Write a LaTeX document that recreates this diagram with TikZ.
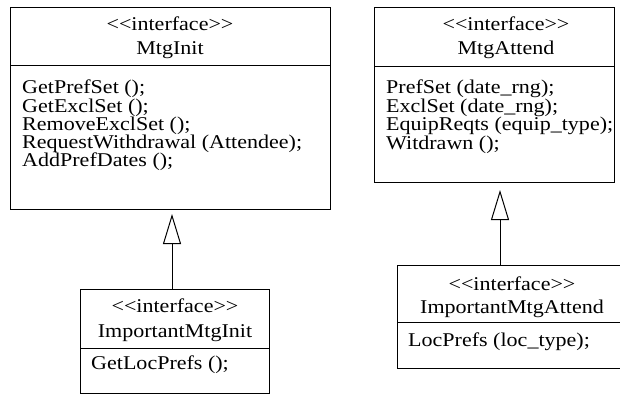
\documentclass[tikz,border=0pt]{standalone}
\usepackage{fontspec}
\setmainfont{Liberation Serif}[FakeStretch=1.13]
\usetikzlibrary{arrows.meta}
\begin{document}
\begin{tikzpicture}[x=1pt,y=-1pt,
  box/.style={draw, line width=1pt, inner sep=0pt, anchor=north west},
  ttl/.style={anchor=base, inner sep=0pt, font=\fontsize{19.5}{22}\selectfont},
  mth/.style={anchor=base west, inner sep=0pt, font=\fontsize{19.5}{22}\selectfont},
  sepline/.style={line width=1pt},
  inh/.style={line width=1pt, -{Triangle[open,length=30pt,width=18pt]}}]
\clip (0,0) rectangle (620,395);
\fill[white] (0,0) rectangle (620,395);

% MtgInit
\node[box, minimum width=320pt, minimum height=202pt] (mi) at (10,7) {};
\draw[sepline] (mi.west |- 0,66) -- (mi.east |- 0,66);
\node[ttl] (mit1) at (170,31) {<\kern0pt<interface>\kern0pt>};
\node[ttl] (mit2) at (170,55) {MtgInit};
\node[mth] (mim1) at (22,94) {GetPrefSet ();};
\node[mth] (mim2) at (22,112.2) {GetExclSet ();};
\node[mth] (mim3) at (22,130.4) {RemoveExclSet ();};
\node[mth] (mim4) at (22,148.6) {RequestWithdrawal (Attendee);};
\node[mth] (mim5) at (22,166.8) {AddPrefDates ();};

% MtgAttend
\node[box, minimum width=240pt, minimum height=175pt] (ma) at (374,7) {};
\draw[sepline] (ma.west |- 0,67) -- (ma.east |- 0,67);
\node[ttl] (mat1) at (506,31) {<\kern0pt<interface>\kern0pt>};
\node[ttl] (mat2) at (506,55) {MtgAttend};
\node[mth] (mam1) at (386,94) {PrefSet (date\_rng);};
\node[mth] (mam2) at (386,112.5) {ExclSet (date\_rng);};
\node[mth] (mam3) at (386,131) {EquipReqts (equip\_type);};
\node[mth] (mam4) at (386,149.5) {Witdrawn ();};

% ImportantMtgInit
\node[box, minimum width=189pt, minimum height=104pt] (ims) at (80,289) {};
\draw[sepline] (ims.west |- 0,348) -- (ims.east |- 0,348);
\node[ttl] (imst1) at (175,312) {<\kern0pt<interface>\kern0pt>};
\node[ttl] (imst2) at (175,337) {ImportantMtgInit};
\node[mth] (imsm1) at (91,369) {GetLocPrefs ();};

% ImportantMtgAttend
\node[box, minimum width=230pt, minimum height=103pt] (ima) at (397,265) {};
\draw[sepline] (ima.west |- 0,322) -- (ima.east |- 0,322);
\node[ttl] (imat1) at (512,290) {<\kern0pt<interface>\kern0pt>};
\node[ttl] (imat2) at (512,313) {ImportantMtgAttend};
\node[mth] (imam1) at (408,346) {LocPrefs (loc\_type);};

% inheritance arrows
\coordinate (ax1) at (172,0);
\coordinate (ax2) at (500,0);
\draw[inh, shorten >=4pt] (ims.north -| ax1) -- (mi.south -| ax1);
\draw[inh, shorten >=7pt] (ima.north -| ax2) -- (ma.south -| ax2);
\end{tikzpicture}
\end{document}
